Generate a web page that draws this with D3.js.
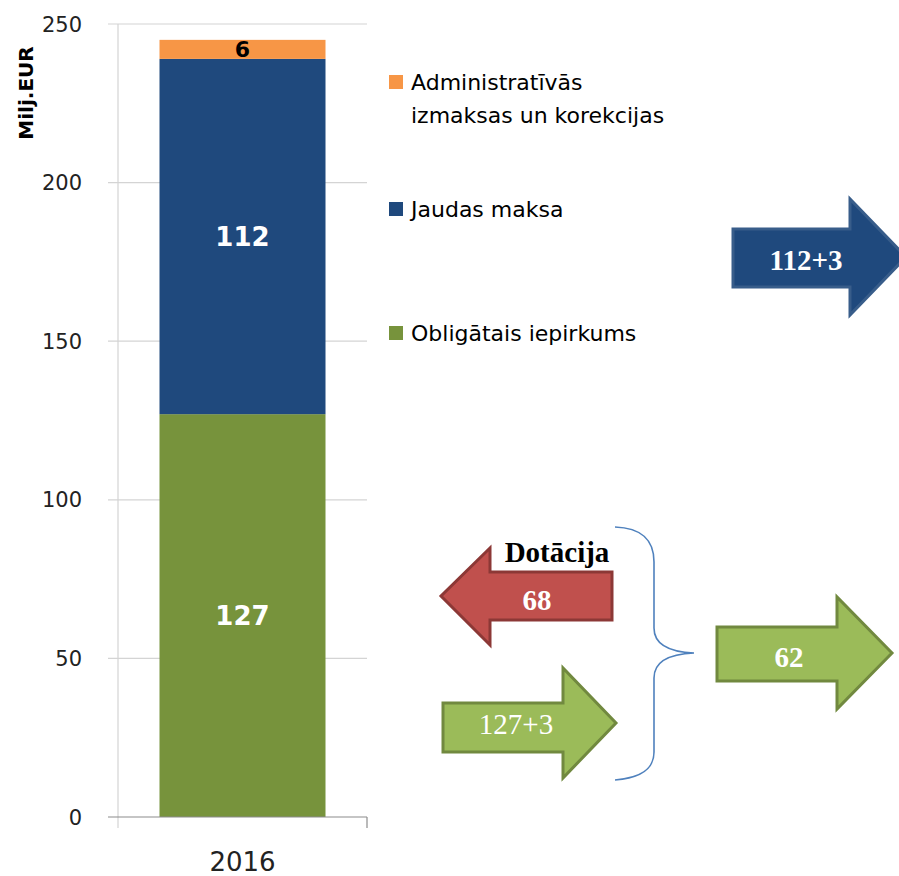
<!DOCTYPE html>
<html>
<head>
<meta charset="utf-8">
<script src="https://cdn.jsdelivr.net/npm/d3@7"></script>
<style>
  body { margin: 0; background: #fff; }
  svg { display: block; }
</style>
</head>
<body>
<div id="chart"></div>
<script>
// chart values
const years = ["2016"];
const seriesNames = ["Obligātais iepirkums", "Jaudas maksa", "Administratīvās izmaksas un korekcijas"];
const obligatais = [127];
const jaudas = [112];
const admin = [6];
const yTicks = [0, 50, 100, 150, 200, 250];

// annotation arrows (labels only)
const arrowLabels = ["112+3", "68", "127+3", "62"];
const dotacijaLabel = "Dotācija";

const colors = {
  "Obligātais iepirkums": "#77933c",
  "Jaudas maksa": "#1f497d",
  "Administratīvās izmaksas un korekcijas": "#f79646"
};

const sans = "DejaVu Sans, sans-serif";
const serif = "Liberation Serif, serif";

const width = 899, height = 876;
const svg = d3.select("#chart").append("svg")
    .attr("width", width)
    .attr("height", height);

const plot = { left: 118, right: 367, top: 24, bottom: 817 };

const y = d3.scaleLinear()
    .domain([0, 250])
    .range([plot.bottom, plot.top]);

const x = d3.scaleBand()
    .domain(years)
    .range([plot.left, plot.right])
    .paddingInner(0)
    .paddingOuter(0.25);

// gridlines
svg.append("g")
    .selectAll("line")
    .data(yTicks.filter(d => d > 0))
    .enter().append("line")
    .attr("x1", plot.left - 10)
    .attr("x2", plot.right)
    .attr("y1", d => y(d))
    .attr("y2", d => y(d))
    .attr("stroke", "#d4d4d4")
    .attr("stroke-width", 1.2);

// y axis line
svg.append("line")
    .attr("x1", plot.left).attr("x2", plot.left)
    .attr("y1", plot.top).attr("y2", plot.bottom + 11)
    .attr("stroke", "#d4d4d4").attr("stroke-width", 1.2);

// tick labels
svg.append("g")
    .selectAll("text")
    .data(yTicks)
    .enter().append("text")
    .attr("x", 82)
    .attr("y", d => y(d))
    .attr("dy", "0.36em")
    .attr("text-anchor", "end")
    .attr("font-family", sans)
    .attr("font-size", 21)
    .attr("fill", "#222")
    .text(d => d);

// y title
svg.append("text")
    .attr("transform", `translate(33,93) rotate(-90)`)
    .attr("text-anchor", "middle")
    .attr("font-family", sans)
    .attr("font-weight", "bold")
    .attr("font-size", 20)
    .attr("fill", "#000")
    .text("Milj.EUR");

// stacked bar
const table = years.map((yr, i) => ({
  year: yr,
  "Obligātais iepirkums": obligatais[i],
  "Jaudas maksa": jaudas[i],
  "Administratīvās izmaksas un korekcijas": admin[i]
}));
const stacked = d3.stack().keys(seriesNames)(table);

svg.append("g")
    .selectAll("g")
    .data(stacked)
    .enter().append("g")
    .attr("fill", d => colors[d.key])
    .selectAll("rect")
    .data(d => d)
    .enter().append("rect")
    .attr("x", d => x(d.data.year))
    .attr("y", d => y(d[1]))
    .attr("height", d => y(d[0]) - y(d[1]))
    .attr("width", x.bandwidth());

// bar value labels
const isAdmin = k => k === "Administratīvās izmaksas un korekcijas";
svg.append("g")
    .selectAll("text")
    .data(stacked)
    .enter().append("text")
    .attr("x", d => x(d[0].data.year) + x.bandwidth() / 2)
    .attr("y", d => y((d[0][0] + d[0][1]) / 2))
    .attr("dy", "0.36em")
    .attr("text-anchor", "middle")
    .attr("font-family", sans)
    .attr("font-weight", "bold")
    .attr("font-size", d => isAdmin(d.key) ? 22 : 26)
    .attr("fill", d => isAdmin(d.key) ? "#000" : "#fff")
    .text(d => d[0][1] - d[0][0]);

// x axis
svg.append("line")
    .attr("x1", plot.left - 10).attr("x2", plot.right)
    .attr("y1", plot.bottom).attr("y2", plot.bottom)
    .attr("stroke", "#8c8c8c").attr("stroke-width", 1.2);
svg.append("line")
    .attr("x1", plot.right).attr("x2", plot.right)
    .attr("y1", plot.bottom).attr("y2", plot.bottom + 11)
    .attr("stroke", "#8c8c8c").attr("stroke-width", 1.2);

svg.append("g")
    .selectAll("text")
    .data(years)
    .enter().append("text")
    .attr("x", d => x(d) + x.bandwidth() / 2)
    .attr("y", 862)
    .attr("dy", "0.36em")
    .attr("text-anchor", "middle")
    .attr("font-family", sans)
    .attr("font-size", 26)
    .attr("fill", "#222")
    .text(d => d);

// legend
const legendItems = [
  { key: "Administratīvās izmaksas un korekcijas", lines: ["Administratīvās", "izmaksas un korekcijas"], y: 82 },
  { key: "Jaudas maksa", lines: ["Jaudas maksa"], y: 209 },
  { key: "Obligātais iepirkums", lines: ["Obligātais iepirkums"], y: 333 }
];
const leg = svg.append("g");
legendItems.forEach(item => {
  leg.append("rect")
      .attr("x", 389).attr("y", item.y - 7)
      .attr("width", 14).attr("height", 14)
      .attr("fill", colors[item.key]);
  item.lines.forEach((ln, i) => {
    leg.append("text")
        .attr("x", 411)
        .attr("y", item.y + i * 33)
        .attr("dy", "0.36em")
        .attr("font-family", sans)
        .attr("font-size", 22)
        .attr("fill", "#000")
        .text(ln);
  });
});

// arrows
function arrowPath(a) {
  return d3.line()([
    [a.x0, a.top], [a.hx, a.top], [a.hx, a.htop], [a.tip, a.ty],
    [a.hx, a.hbot], [a.hx, a.bot], [a.x0, a.bot]
  ]) + "Z";
}

const arrows = [
  { x0: 733, hx: 850, tip: 906, top: 229, bot: 287, htop: 199, hbot: 315, ty: 257,
    fill: "#1f497d", stroke: "#385d8a", label: arrowLabels[0], lx: 806, ly: 260, bold: true },
  { x0: 612, hx: 490, tip: 441, top: 572, bot: 620, htop: 548, hbot: 645, ty: 596,
    fill: "#c0504d", stroke: "#8c3836", label: arrowLabels[1], lx: 537, ly: 600, bold: true },
  { x0: 443, hx: 563, tip: 616, top: 703, bot: 752, htop: 668, hbot: 778, ty: 723,
    fill: "#9bbb59", stroke: "#71893f", label: arrowLabels[2], lx: 516, ly: 724, bold: false },
  { x0: 717, hx: 837, tip: 892, top: 627, bot: 681, htop: 597, hbot: 709, ty: 653,
    fill: "#9bbb59", stroke: "#71893f", label: arrowLabels[3], lx: 789, ly: 657, bold: true }
];

const arr = svg.append("g");
arrows.forEach(a => {
  arr.append("path")
      .attr("d", arrowPath(a))
      .attr("fill", a.fill)
      .attr("stroke", a.stroke)
      .attr("stroke-width", 3)
      .attr("stroke-linejoin", "miter");
  arr.append("text")
      .attr("x", a.lx)
      .attr("y", a.ly)
      .attr("dy", "0.35em")
      .attr("text-anchor", "middle")
      .attr("font-family", serif)
      .attr("font-weight", a.bold ? "bold" : "normal")
      .attr("font-size", 29)
      .attr("fill", "#fff")
      .text(a.label);
});

svg.append("text")
    .attr("x", 557)
    .attr("y", 552)
    .attr("dy", "0.35em")
    .attr("text-anchor", "middle")
    .attr("font-family", serif)
    .attr("font-weight", "bold")
    .attr("font-size", 29)
    .attr("fill", "#000")
    .text(dotacijaLabel);

// brace
svg.append("path")
    .attr("d", "M615,527 C640,528 654,538 654,562 L654,628 C654,645 670,652 694,653 " +
               "C670,654 654,661 654,678 L654,752 C654,770 640,778 615,780")
    .attr("fill", "none")
    .attr("stroke", "#4f81bd")
    .attr("stroke-width", 1.6);
</script>
</body>
</html>
